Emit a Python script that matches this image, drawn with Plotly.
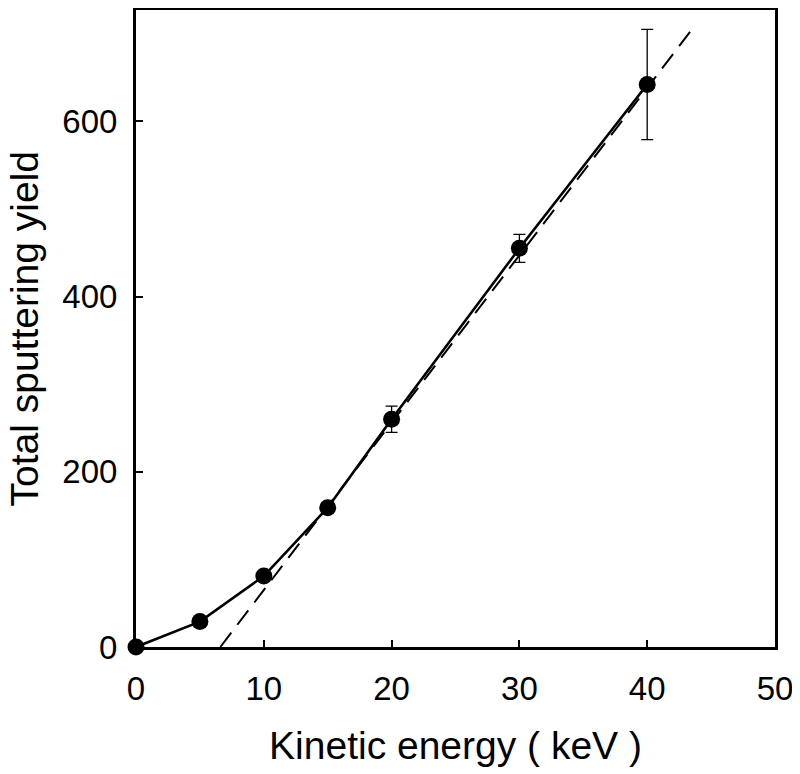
import plotly.graph_objects as go

energy = [0, 5, 10, 15, 20, 30, 40]
yield_vals = [0, 29, 81, 159, 260, 455, 642]
err_vals = [0, 0, 0, 0, 15, 16, 63]

fit_x = [6.6, 43.5]
fit_y = [0, 705]

x_ticks = [0, 10, 20, 30, 40, 50]
y_ticks = [0, 200, 400, 600]

font_family = "Liberation Sans, Arial, sans-serif"

fig = go.Figure()
fig.add_trace(go.Scatter(
    x=fit_x, y=fit_y, mode="lines",
    line=dict(color="black", width=2, dash="18px,10px"),
    showlegend=False, hoverinfo="skip", cliponaxis=False,
))
fig.add_trace(go.Scatter(
    x=energy, y=yield_vals, mode="lines+markers",
    line=dict(color="black", width=2.6),
    marker=dict(color="black", size=17),
    error_y=dict(type="data", array=err_vals, visible=True,
                 color="black", thickness=1.3, width=6),
    showlegend=False, cliponaxis=False,
))

axis_common = dict(
    showline=True, linecolor="black", linewidth=3, mirror=True,
    ticks="inside", ticklen=7, tickwidth=2, tickcolor="black",
    showgrid=False, zeroline=False, automargin=False,
    tickfont=dict(family=font_family, size=33, color="black"),
)

fig.update_layout(
    width=792, height=766,
    margin=dict(l=128, r=25, t=2, b=127),
    paper_bgcolor="white", plot_bgcolor="white",
    xaxis=dict(range=[0, 50], tickvals=x_ticks, ticklabelstandoff=10,
               title=dict(text="Kinetic energy ( keV )",
                          font=dict(family=font_family, size=39, color="black"),
                          standoff=27),
               **axis_common),
    yaxis=dict(range=[0, 727], tickvals=y_ticks, ticklabelstandoff=9,
               **axis_common),
    annotations=[dict(
        text="Total sputtering yield", textangle=-90,
        xref="paper", yref="paper", x=0, y=0.5,
        xanchor="center", yanchor="middle", xshift=-112, showarrow=False,
        font=dict(family=font_family, size=39, color="black"),
    )],
)

fig.write_html("out.html")
